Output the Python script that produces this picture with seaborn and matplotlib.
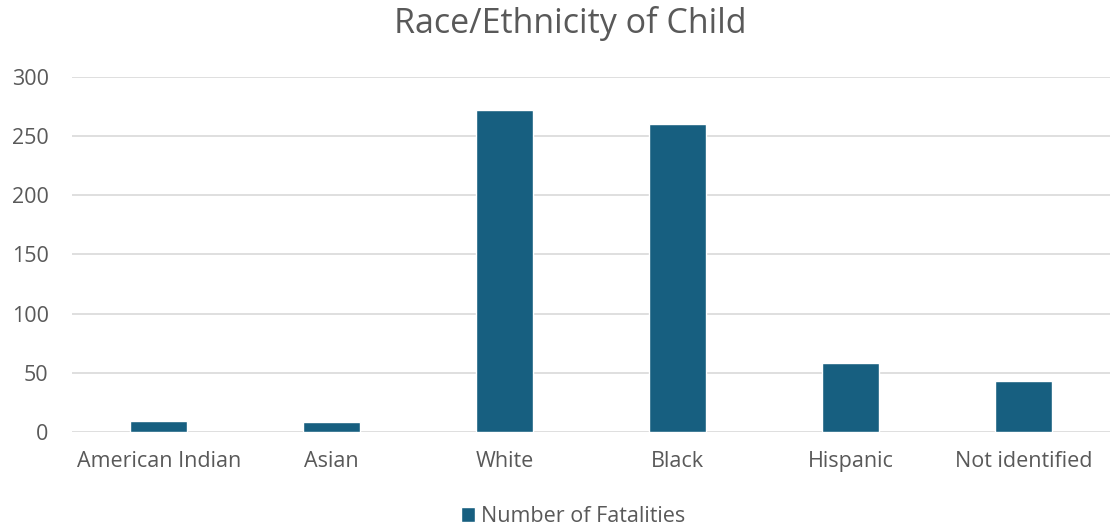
import matplotlib
matplotlib.use("Agg")
import matplotlib.pyplot as plt
import seaborn as sns
import pandas as pd

categories = ["American Indian", "Asian", "White", "Black", "Hispanic", "Not identified"]
fatalities = [9, 8, 272, 260, 58, 43]
series_name = "Number of Fatalities"
y_ticks = [0, 50, 100, 150, 200, 250, 300]

sns.set_theme(style="white")
plt.rcParams["font.family"] = ["Open Sans", "DejaVu Sans"]

text_color = "#595959"
bar_color = "#175F80"
grid_color = "#D9D9D9"

df = pd.DataFrame({"category": categories, "value": fatalities})

fig = plt.figure(figsize=(11.11, 5.29), dpi=100)
ax = fig.add_axes([0.065, 0.184, 0.934, 0.670])

sns.barplot(data=df, x="category", y="value", color=bar_color, width=0.33,
            saturation=1, ax=ax, label=series_name, zorder=3)

ax.set_ylim(0, 300)
ax.set_yticks(y_ticks)
ax.set_xlim(-0.5, len(categories) - 0.5)
ax.yaxis.grid(True, color=grid_color, linewidth=1.2, zorder=0)
ax.xaxis.grid(False)
for s in ax.spines.values():
    s.set_visible(False)
ax.set_xlabel("")
ax.set_ylabel("")
ax.tick_params(axis="both", length=0, labelsize=15.5, colors=text_color)
ax.tick_params(axis="x", pad=14)
ax.tick_params(axis="y", pad=17)

fig.suptitle("Race/Ethnicity of Child", x=0.513, y=0.988, fontsize=24.5, color=text_color)

handles, labels = ax.get_legend_handles_labels()
if ax.get_legend():
    ax.get_legend().remove()
fig.legend(handles, labels, loc="lower center", bbox_to_anchor=(0.516, -0.033), frameon=False,
           fontsize=15.5, labelcolor=text_color, handlelength=0.65, handleheight=0.65,
           handletextpad=0.3)

fig.savefig("out.png", dpi=100)
